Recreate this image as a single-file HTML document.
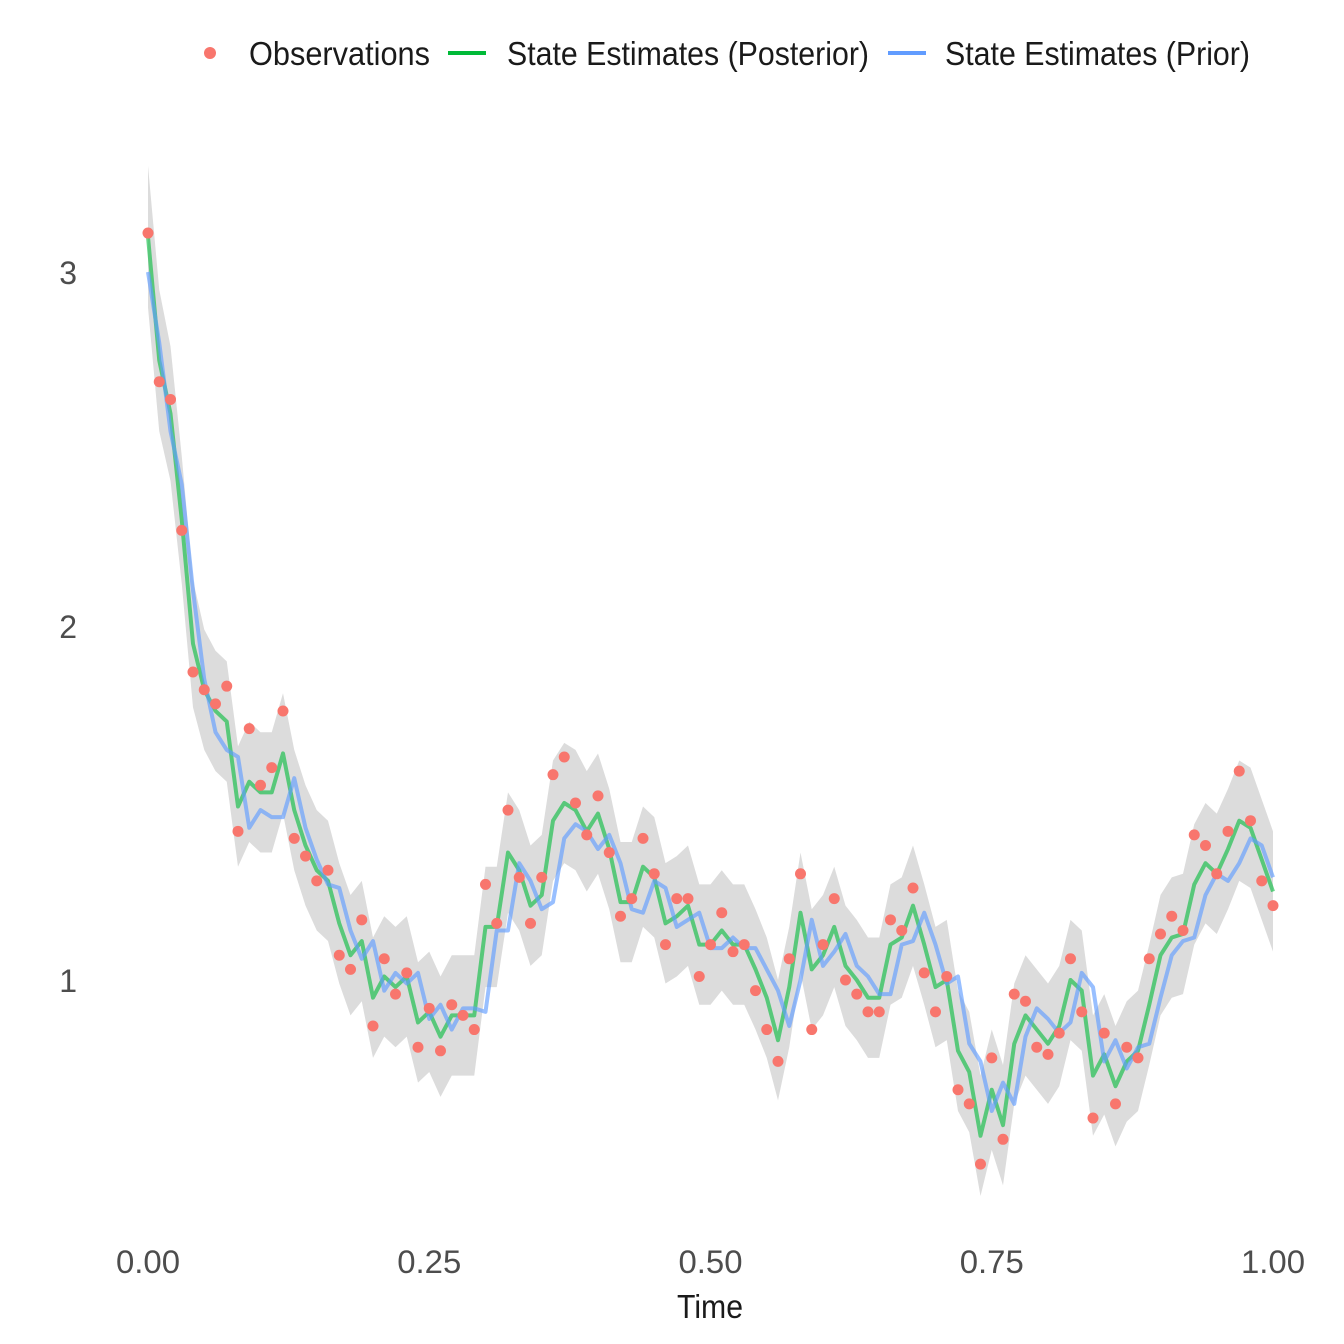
<!DOCTYPE html>
<html><head><meta charset="utf-8"><style>
html,body{margin:0;padding:0;background:#fff;}
svg{display:block;font-family:"Liberation Sans",sans-serif;}
</style></head><body>
<svg id="chart" width="1344" height="1344">
<g id="legend">
  <g>
    <circle cx="210" cy="53" r="6" fill="#F8766D"/>
    <text x="249" y="65" font-size="33" fill="#1a1a1a" textLength="181" lengthAdjust="spacingAndGlyphs">Observations</text>
  </g>
  <g>
    <line x1="448" y1="53" x2="486" y2="53" stroke="#00BA38" stroke-width="4"/>
    <text x="507" y="65" font-size="33" fill="#1a1a1a" textLength="362" lengthAdjust="spacingAndGlyphs">State Estimates (Posterior)</text>
  </g>
  <g>
    <line x1="888" y1="53" x2="926" y2="53" stroke="#619CFF" stroke-width="4"/>
    <text x="945" y="65" font-size="33" fill="#1a1a1a" textLength="305" lengthAdjust="spacingAndGlyphs">State Estimates (Prior)</text>
  </g>
</g>
<g id="plot"></g>
<g id="axes"></g>
</svg>
<script>
const obs=[3.11,2.69,2.64,2.27,1.87,1.82,1.78,1.83,1.42,1.71,1.55,1.60,1.76,1.40,1.35,1.28,1.31,1.07,1.03,1.17,0.87,1.06,0.96,1.02,0.81,0.92,0.80,0.93,0.90,0.86,1.27,1.16,1.48,1.29,1.16,1.29,1.58,1.63,1.50,1.41,1.52,1.36,1.18,1.23,1.40,1.30,1.10,1.23,1.23,1.01,1.10,1.19,1.08,1.10,0.97,0.86,0.77,1.06,1.30,0.86,1.10,1.23,1.00,0.96,0.91,0.91,1.17,1.14,1.26,1.02,0.91,1.01,0.69,0.65,0.48,0.78,0.55,0.96,0.94,0.81,0.79,0.85,1.06,0.91,0.61,0.85,0.65,0.81,0.78,1.06,1.13,1.18,1.14,1.41,1.38,1.30,1.42,1.59,1.45,1.28,1.21];
const posterior=[3.10,2.75,2.60,2.30,1.95,1.82,1.76,1.73,1.49,1.56,1.53,1.53,1.64,1.48,1.38,1.31,1.28,1.16,1.07,1.11,0.95,1.01,0.98,1.01,0.88,0.91,0.84,0.90,0.90,0.90,1.15,1.15,1.36,1.31,1.21,1.24,1.45,1.50,1.48,1.42,1.47,1.37,1.22,1.22,1.32,1.29,1.16,1.18,1.21,1.10,1.10,1.14,1.10,1.10,1.03,0.95,0.83,0.98,1.19,1.03,1.07,1.15,1.04,1.00,0.95,0.95,1.10,1.12,1.21,1.10,0.98,1.00,0.80,0.74,0.56,0.69,0.59,0.82,0.90,0.86,0.82,0.87,1.00,0.97,0.73,0.79,0.70,0.77,0.80,0.93,1.07,1.12,1.13,1.27,1.33,1.30,1.37,1.45,1.43,1.34,1.25];
const prior=[3.00,2.80,2.55,2.40,2.10,1.85,1.70,1.65,1.63,1.43,1.48,1.46,1.46,1.57,1.43,1.34,1.27,1.26,1.14,1.06,1.11,0.97,1.02,0.99,1.02,0.89,0.93,0.86,0.92,0.92,0.91,1.14,1.14,1.33,1.28,1.20,1.22,1.40,1.44,1.42,1.37,1.41,1.33,1.20,1.19,1.28,1.26,1.15,1.17,1.19,1.09,1.09,1.12,1.09,1.09,1.03,0.97,0.87,1.00,1.17,1.04,1.08,1.13,1.04,1.01,0.96,0.96,1.10,1.11,1.19,1.10,0.99,1.01,0.82,0.77,0.63,0.71,0.65,0.84,0.92,0.89,0.85,0.88,1.02,0.98,0.77,0.83,0.75,0.81,0.82,0.95,1.07,1.11,1.12,1.24,1.30,1.28,1.33,1.40,1.38,1.29];
const bandSd=[0.2,0.2,0.19,0.18,0.18,0.17,0.17,0.17,0.17,0.17,0.17,0.17,0.17,0.17,0.17,0.17,0.17,0.17,0.17,0.17,0.17,0.17,0.17,0.17,0.17,0.17,0.17,0.17,0.17,0.17,0.17,0.17,0.17,0.17,0.17,0.17,0.17,0.17,0.17,0.17,0.17,0.17,0.17,0.17,0.17,0.17,0.17,0.17,0.17,0.17,0.17,0.17,0.17,0.17,0.17,0.17,0.17,0.17,0.17,0.17,0.17,0.17,0.17,0.17,0.17,0.17,0.17,0.17,0.17,0.17,0.17,0.17,0.17,0.17,0.17,0.17,0.17,0.17,0.17,0.17,0.17,0.17,0.17,0.17,0.17,0.17,0.17,0.17,0.17,0.17,0.17,0.17,0.17,0.17,0.17,0.17,0.17,0.17,0.17,0.17,0.17];
const xTicks=[0,0.25,0.5,0.75,1];
const xTickLabels=["0.00","0.25","0.50","0.75","1.00"];
const yTicks=[1,2,3];
const yTickLabels=["1","2","3"];

const NS="http://www.w3.org/2000/svg";
const X=t=>148+t*1125;
const Y=v=>980-(v-1)*354;
const T=i=>i/(obs.length-1);
const plot=document.getElementById('plot');
const axes=document.getElementById('axes');
function mk(tag,attrs,parent){const e=document.createElementNS(NS,tag);for(const k in attrs)e.setAttribute(k,attrs[k]);parent.appendChild(e);return e;}

let up=[],lo=[];
posterior.forEach((v,i)=>{up.push(X(T(i))+','+Y(v+bandSd[i]));lo.unshift(X(T(i))+','+Y(v-bandSd[i]));});
const band=mk('polygon',{points:up.concat(lo).join(' '),fill:'#dcdcdc'},plot);



const pl=mk('polyline',{points:posterior.map((v,i)=>X(T(i))+','+Y(v)).join(' '),fill:'none',stroke:'#00BA38','stroke-opacity':0.6,'stroke-width':4,'stroke-linejoin':'round'},plot);


const pr=mk('polyline',{points:prior.map((v,i)=>X(T(i))+','+Y(v)).join(' '),fill:'none',stroke:'#619CFF','stroke-opacity':0.65,'stroke-width':4,'stroke-linejoin':'round'},plot);



obs.forEach((v,i)=>{
  const c=mk('circle',{cx:X(T(i)),cy:Y(v),r:5.5,fill:'#F8766D'},plot);
  
  
});

xTicks.forEach((t,i)=>{
  const tx=mk('text',{x:X(t),y:1273,'font-size':32,fill:'#4d4d4d','text-anchor':'middle',textLength:64,lengthAdjust:'spacingAndGlyphs'},axes);
  tx.textContent=xTickLabels[i];
  
  
});
yTicks.forEach((v,i)=>{
  const tx=mk('text',{x:77,y:Y(v)+12,'font-size':32,fill:'#4d4d4d','text-anchor':'end'},axes);
  tx.textContent=yTickLabels[i];
  
  
});
const xt=mk('text',{x:710,y:1318,'font-size':33,fill:'#1a1a1a','text-anchor':'middle',textLength:66,lengthAdjust:'spacingAndGlyphs'},axes);
xt.textContent='Time';


</script>
</body></html>
